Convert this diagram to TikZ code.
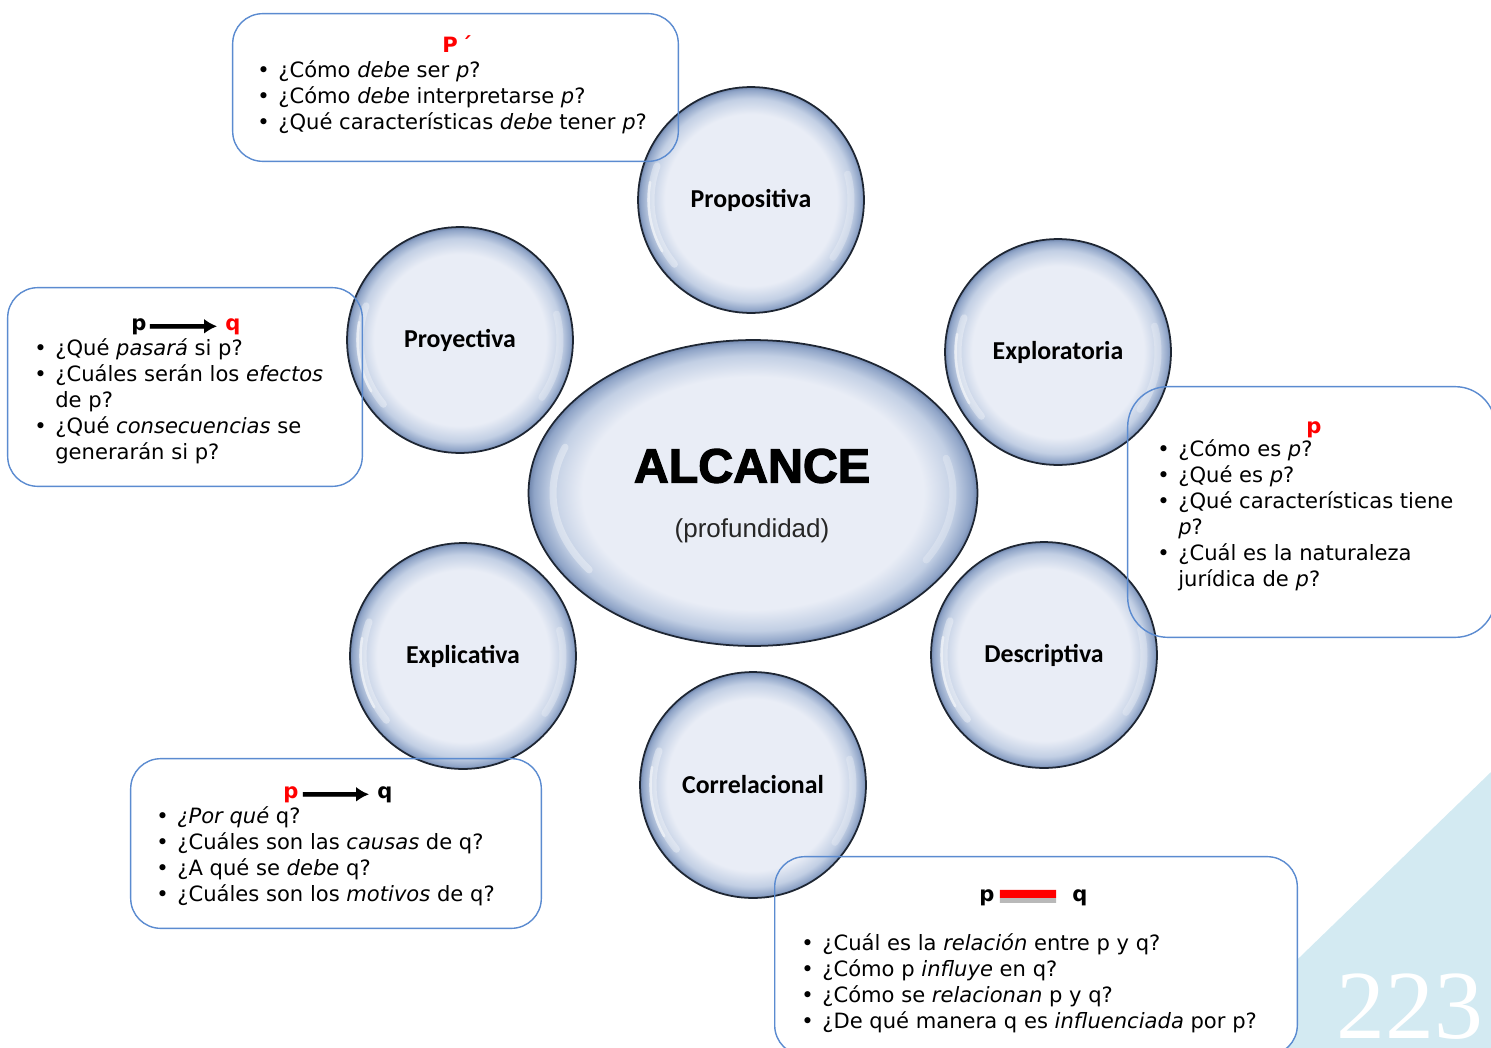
\documentclass[tikz,border=0pt]{standalone}
\usepackage{fontspec}
\usepackage{xcolor}
\setmainfont{DejaVu Sans}
\newfontfamily\bubfont{Carlito}
\newfontfamily\blackfont[FakeBold=2.5]{Liberation Sans Bold}
\newfontfamily\parenfont{Liberation Sans}
\newfontfamily\numfont{Liberation Serif}
\usetikzlibrary{arrows,arrows.meta,calc,positioning,shapes.geometric}
\definecolor{boxblue}{HTML}{5B8BD0}
\definecolor{bubin}{HTML}{E9EDF6}
\definecolor{bubmid}{HTML}{C2CFE4}
\definecolor{bubedge}{HTML}{8FA4C7}
\definecolor{bubout}{HTML}{7086AD}
\definecolor{bubrim}{HTML}{1E2633}
\definecolor{cornerblue}{HTML}{D3EAF2}
\definecolor{hdred}{HTML}{FF0000}
\pgfdeclareradialshading{bubble}{\pgfpoint{0bp}{0bp}}{color(0bp)=(bubin); color(19bp)=(bubin); color(22.5bp)=(bubmid); color(24.4bp)=(bubedge); color(25bp)=(bubout); color(50bp)=(bubout)}
\newcommand{\itm}{\llap{•\hspace{0.17cm}}}
\tikzset{%
	bubble/.style  = {circle, draw=bubrim, line width=1pt, shading=bubble, minimum size=4.52cm, inner sep=0pt, font=\bubfont\bfseries\fontsize{14.7}{17}\selectfont},
	shine/.style   = {white, line width=4pt, opacity=.35, line cap=round},
	infobox/.style = {rectangle, rounded corners=0.6cm, fill=white, inner sep=0pt},
	boxline/.style = {draw=boxblue, line width=0.8pt, rounded corners=0.6cm},
	qtext/.style   = {anchor=base west, align=left, inner sep=0pt, font=\fontsize{12}{14.74}\selectfont},
	hd/.style      = {anchor=base west, inner sep=0pt, font=\bfseries\fontsize{12}{14}\selectfont},
	arrow/.style   = {line width=2.6pt,-{Latex[length=0.26cm,width=0.3cm]}},
	shadowarrow/.style = {arrow,gray!55,xshift=0.04cm,yshift=-0.07cm},
}
\begin{document}
\begin{tikzpicture}[x=0.02cm,y=-0.02cm]
		\useasboundingbox (0,0) rectangle (1491,1048);
		\fill[cornerblue] (1491,772) -- (1491,1048) -- (1206,1048) -- cycle;
		\node[anchor=base west, inner sep=0pt, text=white, font=\numfont\fontsize{55.6}{60}\selectfont] (pagenum) at (1336,1038) {223};
		
		% cuadros
		\node[infobox, minimum width=8.9cm, minimum height=2.94cm] (boxtop) at (455.5,87.5) {};
		\node[infobox, minimum width=7.08cm, minimum height=3.96cm] (boxleft) at (185,387) {};
		\node[infobox, rounded corners=0.8cm, minimum width=7.34cm, minimum height=5cm] (boxright) at (1311.5,512) {};
		\node[infobox, minimum width=8.2cm, minimum height=3.38cm] (boxbl) at (336,843.5) {};
		\node[infobox, minimum width=10.44cm, minimum height=3.96cm] (boxbot) at (1036,956) {};
		
		% burbujas
		\node[bubble, ellipse, minimum width=8.98cm, minimum height=6.12cm] (alcance) at (753,493) {};
		\node[bubble] (propositiva) at (751,200) {Propositiva};
		\node[bubble] (proyectiva) at (460,340) {Proyectiva};
		\node[bubble] (exploratoria) at (1058,352) {Exploratoria};
		\node[bubble] (explicativa) at (463,656) {Explicativa};
		\node[bubble] (descriptiva) at (1044,655) {Descriptiva};
		\node[bubble] (correlacional) at (753,785) {Correlacional};
		\foreach \b in {propositiva,proyectiva,exploratoria,explicativa,descriptiva,correlacional}{
			\draw[shine] (\b.center) ++(160:2.0cm) arc[start angle=160, end angle=220, radius=2.0cm];
			\draw[shine, line width=1.5pt, opacity=.5] (\b.center) ++(170:2.05cm) arc[start angle=170, end angle=210, radius=2.05cm];
			\draw[shine, opacity=.25] (\b.center) ++(-35:2.0cm) arc[start angle=-35, end angle=15, radius=2.0cm];
		}
		\draw[shine] (alcance.center) ++(160:4.0cm and 2.68cm) arc[start angle=160, end angle=215, x radius=4.0cm, y radius=2.68cm];
		\draw[shine, opacity=.25] (alcance.center) ++(-30:4.0cm and 2.68cm) arc[start angle=-30, end angle=15, x radius=4.0cm, y radius=2.68cm];
		\node[font=\blackfont\fontsize{27.5}{30}\selectfont, inner sep=0pt] (titulo) at (752,466) {ALCANCE};
		\node[font=\parenfont\fontsize{14.8}{17}\selectfont, inner sep=0pt, text=black!85] (subtitulo) at (752,531) {(profundidad)};
		
		\foreach \b in {boxtop,boxleft,boxbl,boxbot}
			\draw[boxline] (\b.south west) rectangle (\b.north east);
		\draw[boxline, rounded corners=0.8cm] (boxright.south west) rectangle (boxright.north east);
		
		% Propositiva
		\node[hd, text=hdred] (tp) at (442,52) {P\,´};
		\node[qtext] (toptext) at (278,129) {\itm ¿Cómo \textit{debe} ser \textit{p}?\\
			\itm ¿Cómo \textit{debe} interpretarse \textit{p}?\\
			\itm ¿Qué características \textit{debe} tener \textit{p}?};
		
		% Proyectiva
		\node[hd] (lp) at (131,330) {p};
		\node[hd, text=hdred] (lq) at (225,330) {q};
		\draw[shadowarrow, shorten <=0.06cm, shorten >=0.16cm] (lp.east) -- (lq.west);
		\draw[arrow, shorten <=0.06cm, shorten >=0.16cm] (lp.east) -- (lq.west);
		\node[qtext] (lefttext) at (55,459) {\itm ¿Qué \textit{pasará} si p?\\
			\itm ¿Cuáles serán los \textit{efectos}\\
			de p?\\
			\itm ¿Qué \textit{consecuencias} se\\
			generarán si p?};
		
		% Exploratoria
		\node[hd, text=hdred] (rp) at (1306,433) {p};
		\node[qtext] (righttext) at (1178,586) {\itm ¿Cómo es \textit{p}?\\
			\itm ¿Qué es \textit{p}?\\
			\itm ¿Qué características tiene\\
			\textit{p}?\\
			\itm ¿Cuál es la naturaleza\\
			jurídica de \textit{p}?};
		
		% Explicativa
		\node[hd, text=hdred] (blp) at (283,798) {p};
		\node[hd] (blq) at (377,798) {q};
		\draw[shadowarrow, shorten <=0.08cm, shorten >=0.16cm] (blp.east) -- (blq.west);
		\draw[arrow, shorten <=0.08cm, shorten >=0.16cm] (blp.east) -- (blq.west);
		\node[qtext] (bltext) at (177,901) {\itm \textit{¿Por qué} q?\\
			\itm ¿Cuáles son las \textit{causas} de q?\\
			\itm ¿A qué se \textit{debe} q?\\
			\itm ¿Cuáles son los \textit{motivos} de q?};
		
		% Correlacional
		\node[hd] (bp) at (979,901) {p};
		\node[hd] (bq) at (1072,901) {q};
		\draw[gray!55, line width=2.8pt, shorten <=0.1cm, shorten >=0.32cm] ([yshift=-0.062cm]bp.east) -- ([yshift=-0.062cm]bq.west);
		\draw[hdred, line width=4.5pt, shorten <=0.1cm, shorten >=0.32cm] ([yshift=0.068cm]bp.east) -- ([yshift=0.068cm]bq.west);
		\node[qtext] (bottext) at (822,1028) {\itm ¿Cuál es la \textit{relación} entre p y q?\\
			\itm ¿Cómo p \textit{influye} en q?\\
			\itm ¿Cómo se \textit{relacionan} p y q?\\
			\itm ¿De qué manera q es \textit{influenciada} por p?};
\end{tikzpicture}
\end{document}
